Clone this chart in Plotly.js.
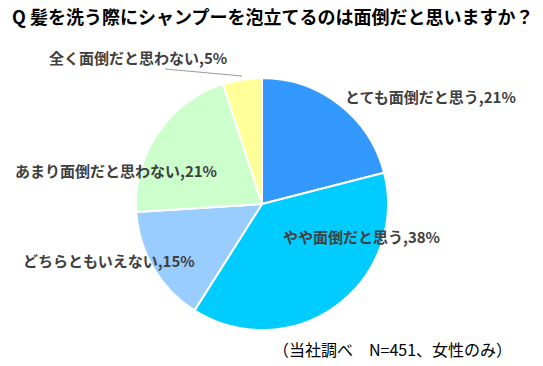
<!DOCTYPE html>
<html><head><meta charset="utf-8">
<script src="https://cdn.plot.ly/plotly-3.0.1.min.js"></script>
<style>body{margin:0;background:#fff}#chart{width:543px;height:366px}</style>
</head><body><div id="chart"></div>
<script>
const categories = ["とても面倒だと思う","やや面倒だと思う","どちらともいえない","あまり面倒だと思わない","全く面倒だと思わない"];
const values = [21, 38, 15, 21, 5];
const colors = ["#3399FF","#00CCFF","#99CCFF","#CCFFCC","#FFFF99"];
const labelPos = [[430,97],[361,236],[109,260],[116,170],[138,57]];
const W = 543, H = 366;
const font = '"Noto Sans CJK JP", "Noto Sans", sans-serif';

const annotations = categories.map((c, i) => ({
  x: labelPos[i][0] / W, y: 1 - labelPos[i][1] / H, xref: 'paper', yref: 'paper',
  text: '<b>' + c + ',' + values[i] + '%</b>', showarrow: false,
  font: {family: font, size: 15, color: '#404040'}, xanchor: 'center', yanchor: 'middle'
}));
annotations.push({
  x: 392 / W, y: 1 - 349 / H, xref: 'paper', yref: 'paper',
  text: '（当社調べ　N=451、女性のみ）', showarrow: false,
  font: {family: font, size: 16, color: '#000'}, xanchor: 'center', yanchor: 'middle'
});

const shapes = [{
  type: 'line', xref: 'paper', yref: 'paper',
  x0: 165 / W, y0: 1 - 69 / H, x1: 242 / W, y1: 1 - 76 / H,
  line: {color: '#999', width: 1}
}];

Plotly.newPlot('chart', [{
  type: 'pie', labels: categories, values: values, sort: false, direction: 'clockwise',
  rotation: 0, marker: {colors: colors, line: {color: '#fff', width: 2}},
  textinfo: 'none', hoverinfo: 'none', showlegend: false,
  domain: {x: [136 / W, 388 / W], y: [36 / H, 288 / H]}
}], {
  width: W, height: H, margin: {l: 0, r: 0, t: 0, b: 0},
  paper_bgcolor: '#fff',
  title: {text: '<b>Q 髪を洗う際にシャンプーを泡立てるのは面倒だと思いますか？</b>',
    x: 12 / W, xanchor: 'left', y: 1 - 18 / H, yanchor: 'middle', xref: 'paper', yref: 'paper',
    font: {family: font, size: 18, color: '#000'}},
  annotations: annotations, shapes: shapes
}, {displayModeBar: false, staticPlot: true});
</script></body></html>
